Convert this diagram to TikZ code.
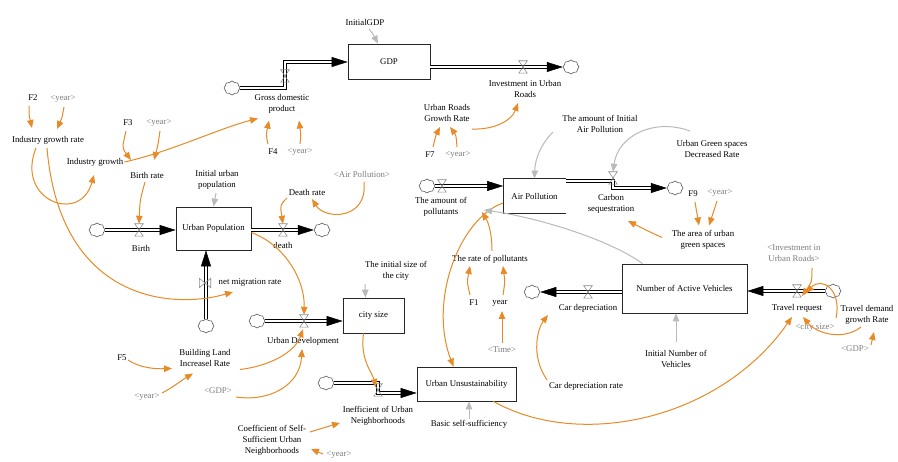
\documentclass[tikz,border=0pt]{standalone}
\usepackage{fontspec}
\setmainfont{Liberation Serif}
\usetikzlibrary{arrows.meta,shapes.symbols,calc}
\definecolor{inforange}{RGB}{232,138,38}
\definecolor{infogray}{RGB}{186,186,186}
\definecolor{shadowtext}{RGB}{125,125,125}

\tikzset{
  lbl/.style={font=\fontsize{8.8}{11}\selectfont, align=center, inner sep=1pt},
  glbl/.style={lbl, text=shadowtext},
  stock/.style={draw=black!85, line width=0.8pt, fill=white, inner sep=0pt,
    font=\fontsize{8.8}{11}\selectfont},
  inf/.style={draw=inforange, line width=1pt, -{Triangle[length=8pt,width=6.5pt]}},
  ginf/.style={draw=infogray, line width=1pt, -{Triangle[length=8pt,width=6.5pt]}},
  pipe/.style={draw=black, line width=1.1pt, double=white, double distance=1.4pt,
    shorten >=13pt},
  pipehead/.style={draw=white, line width=0.5pt,
    -{Triangle[length=16pt,width=10pt,color=black]}},
  cloudnode/.style={cloud, cloud puffs=8, cloud puff arc=120, aspect=1.1,
    draw=black!75, line width=0.5pt, fill=white, minimum width=16pt,
    minimum height=14pt, inner sep=0pt},
  valvebox/.style={minimum width=8pt, minimum height=12pt, inner sep=0pt},
  valveline/.style={draw=black!45, line width=0.6pt},
}

% a rate valve on a horizontal pipe (hourglass)
\newcommand\hvalve[3]{%
  \node[valvebox] (#1) at (#2,#3) {};
  \draw[valveline] (#1.north west) -- (#1.north east) -- (#1.south west)
    -- (#1.south east) -- cycle;}
% a rate valve on a vertical pipe (bow tie)
\newcommand\vvalve[3]{%
  \node[valvebox, minimum width=11pt, minimum height=9pt] (#1) at (#2,#3) {};
  \draw[valveline] (#1.north west) -- (#1.south west) -- (#1.north east)
    -- (#1.south east) -- cycle;}
% a material flow: double pipe with a solid head
\newcommand\flowpipe[1]{\draw[pipe] #1; \draw[pipehead] #1;}

\begin{document}
\begin{tikzpicture}[x=1pt, y=-1pt]
\useasboundingbox (0,0) rectangle (898,462);
\fill[white] (0,0) rectangle (898,462);

% ---------- stocks ----------
\node[stock, minimum width=82pt, minimum height=35pt] (gdp) at (389,61.5) {GDP};
\node[stock, minimum width=75pt, minimum height=43pt] (pop) at (213.5,228.5) {Urban Population};
\node[stock, minimum width=61pt, minimum height=35pt] (city) at (373.5,315.5) {city size};
\node[stock, draw=none, minimum width=62pt, minimum height=34pt] (air) at (534.5,196) {Air Pollution};
\draw[black!85, line width=0.8pt] (air.north east) -- (air.north west)
  -- (air.south west) -- (air.south east);
\node[stock, minimum width=99pt, minimum height=34pt] (unsus) at (466.5,384) {Urban Unsustainability};
\node[stock, minimum width=125pt, minimum height=49pt] (veh) at (684.5,288.5) {Number of Active Vehicles};

% ---------- clouds ----------
\node[cloudnode] (cG) at (232,88) {};
\node[cloudnode] (cI) at (571,67) {};
\node[cloudnode] (cB) at (97,230) {};
\node[cloudnode] (cD) at (322,230) {};
\node[cloudnode] (cM) at (206,326) {};
\node[cloudnode] (cU) at (257,321) {};
\node[cloudnode] (cN) at (326,383) {};
\node[cloudnode] (cP) at (427,186) {};
\node[cloudnode] (cC) at (675,188) {};
\node[cloudnode] (cV) at (532,292) {};
\node[cloudnode] (cT) at (833,291) {};

% ---------- labels ----------
\node[lbl] (initgdp) at (365,22) {InitialGDP};
\node[lbl] (gdpl) at (282,103.5) {Gross domestic\\product};
\node[lbl] (invl) at (525,89) {Investment in Urban\\Roads};
\node[lbl] (f2) at (33,98) {F2};
\node[glbl] (yr1) at (63,99) {<year>};
\node[lbl] (igr) at (48,140) {Industry growth rate};
\node[lbl] (ig) at (95,162) {Industry growth};
\node[lbl] (f3) at (128,123) {F3};
\node[glbl] (yr2) at (159,123) {<year>};
\node[lbl] (br) at (147,175) {Birth rate};
\node[lbl] (f4) at (273,152) {F4};
\node[glbl] (yr3) at (300,152) {<year>};
\node[lbl] (iup) at (217,180) {Initial urban\\population};
\node[lbl] (dr) at (307,192) {Death rate};
\node[glbl] (apg) at (362,174) {<Air Pollution>};
\node[lbl] (birthl) at (141,248) {Birth};
\node[lbl] (deathl) at (283,245) {death};
\node[lbl] (nmr) at (250,283) {net migration rate};
\node[lbl] (isc) at (396,271) {The initial size of\\the city};
\node[lbl] (udl) at (303,341) {Urban Development};
\node[lbl] (f5) at (122,358) {F5};
\node[lbl] (bl) at (205,357.5) {Building Land\\Increasel Rate};
\node[glbl] (yr4) at (147,397) {<year>};
\node[glbl] (gdpg) at (218,391) {<GDP>};
\node[lbl] (inefl) at (378,416) {Inefficient of Urban\\Neighborhoods};
\node[lbl] (coef) at (272,440) {Coefficient of Self-\\Sufficient Urban\\Neighborhoods};
\node[glbl] (yr5) at (339,455) {<year>};
\node[lbl] (bss) at (469,424) {Basic self-sufficiency};
\node[lbl] (urgr) at (447,113) {Urban Roads\\Growth Rate};
\node[lbl] (f7) at (430,155) {F7};
\node[glbl] (yr6) at (458,155) {<year>};
\node[lbl] (iap) at (600,123.5) {The amount of Initial\\Air Pollution};
\node[lbl] (ugs) at (712,149) {Urban Green spaces\\Decreased Rate};
\node[lbl] (f9) at (693,194) {F9};
\node[glbl] (yr7) at (720,193) {<year>};
\node[lbl] (aug) at (703,239.5) {The area of urban\\green spaces};
\node[lbl] (amtp) at (441,207) {The amount of\\pollutants};
\node[lbl] (carbl) at (611,204) {Carbon\\sequestration};
\node[lbl] (rop) at (490,259) {The rate of pollutants};
\node[lbl] (f1) at (474,303) {F1};
\node[lbl] (yearn) at (500,303) {year};
\node[glbl] (timeg) at (502,350) {<Time>};
\node[lbl] (cdl) at (588,308) {Car depreciation};
\node[lbl] (cdr) at (586,386) {Car depreciation rate};
\node[lbl] (ivn) at (676,358.5) {Initial Number of\\Vehicles};
\node[glbl] (iur) at (794,253) {<Investment in\\Urban Roads>};
\node[lbl] (trl) at (797,308) {Travel request};
\node[glbl] (csg) at (815,328) {<city size>};
\node[lbl] (tdg) at (867,315) {Travel demand\\growth Rate};
\node[glbl] (gdpg2) at (855,349) {<GDP>};

% ---------- flows ----------
\coordinate (g1) at (285,88);
\coordinate (g2) at (285,62);
\flowpipe{(cG) -- (g1) -- (g2) -- (gdp.west |- g2)}
\flowpipe{(gdp.east |- cI) -- (cI)}
\flowpipe{(cB) -- (pop.west |- cB)}
\flowpipe{(pop.east |- cD) -- (cD)}
\flowpipe{(cM) -- (cM |- pop.south)}
\flowpipe{(cU) -- (city.west |- cU)}
\coordinate (n1) at (378,383);
\coordinate (n2) at (378,393);
\flowpipe{(cN) -- (n1) -- (n2) -- (unsus.west |- n2)}
\flowpipe{(cP) -- (air.west |- cP)}
\coordinate (k1) at (613,181);
\coordinate (k2) at (613,188);
\flowpipe{(air.east |- k1) -- (k1) -- (k2) -- (cC)}
\flowpipe{(veh.west |- cV) -- (cV)}
\flowpipe{(cT) -- (veh.east |- cT)}

% ---------- valves ----------
\hvalve{vG}{285}{76}
\hvalve{vI}{523}{67}
\hvalve{vB}{139}{230}
\hvalve{vD}{283}{230}
\vvalve{vM}{205}{283}
\hvalve{vU}{304}{321}
\hvalve{vN}{378}{390}
\hvalve{vP}{442}{186}
\hvalve{vC}{613}{178}
\hvalve{vV}{588}{292}
\hvalve{vT}{797}{291}

% ---------- information links ----------
\draw[inf] ($(f2)+(-4,8)$) .. controls (29,115) .. ($(igr)+(-16,-12)$);
\draw[inf] ($(yr1)+(1,8)$) .. controls (62,118) .. ($(igr)+(9,-11)$);
\draw[inf] ($(igr)+(-12,8)$) .. controls (15,200) and (80,225) .. ($(ig)+(-1,13)$);
\draw[inf] ($(igr)+(-1,8)$) .. controls (60,300) and (170,310) .. ($(nmr)+(-17,9)$);
\draw[inf] (ig.east) .. controls (170,152) and (220,128) .. ($(gdpl)+(-24,15)$);
\draw[inf] ($(f3)+(-2,8)$) .. controls (122,148) .. ($(br)+(-16,-15)$);
\draw[inf] ($(yr2)+(1,8)$) .. controls (158,145) .. ($(br)+(7,-15)$);
\draw[inf] ($(f4)+(-5,-8)$) .. controls (266,135) .. ($(gdpl)+(-13,17)$);
\draw[inf] ($(yr3)+(0,-8)$) .. controls (301,135) .. ($(gdpl)+(17,17)$);
\draw[inf] ($(br)+(-2,7)$) .. controls (140,200) .. (vB.north);
\draw[inf] ($(dr)+(-20,6)$) .. controls (280,205) .. (vD.north);
\draw[inf] ($(apg)+(2,8)$) .. controls (368,220) and (325,220) .. ($(dr)+(5,7)$);
\draw[inf] ($(pop.east)+(0,4)$) .. controls (285,245) and (305,280) .. (vU.north);
\draw[ginf] ($(isc)+(-31,13)$) -- ($(city.north)+(-8,0)$);
\draw[inf] ($(f5)+(6,2)$) .. controls (140,368) and (155,369) .. ($(bl)+(-33,11)$);
\draw[inf] ($(yr4)+(15,-4)$) .. controls (172,388) and (182,380) .. ($(bl)+(-12,16)$);
\draw[inf] ($(bl)+(35,12)$) .. controls (270,366) and (295,352) .. ($(vU.south)+(-1,2)$);
\draw[inf] ($(gdpg)+(18,6)$) .. controls (270,402) and (300,385) .. ($(udl)+(-1,8)$);
\draw[inf] ($(city.south)+(-10,0)$) .. controls (360,360) and (372,372) .. ($(vN)+(-2,-3)$);
\draw[inf] ($(coef)+(38,-8)$) .. controls (322,428) .. ($(inefl)+(-38,7)$);
\draw[inf] ($(yr5)+(-16,-1)$) -- ($(coef)+(39,9)$);
\draw[ginf] (bss.north) -- (unsus.south -| bss);
\draw[ginf] ($(initgdp)+(4,7)$) .. controls (373,34) .. ($(gdp.north)+(-11,0)$);
\draw[ginf] ($(iup)+(-1,13)$) -- (pop.north);
\draw[inf] ($(urgr)+(25,16)$) .. controls (495,130) and (512,120) .. ($(invl)+(-7,14)$);
\draw[inf] ($(f7)+(3,-8)$) .. controls (436,135) .. ($(urgr)+(-7,14)$);
\draw[inf] ($(yr6)+(-1,-8)$) .. controls (456,135) .. ($(urgr)+(3,14)$);
\draw[ginf] ($(iap)+(-47,8.5)$) .. controls (540,145) and (535,160) .. (air.north);
\draw[ginf] ($(ugs)+(-22,-18)$) .. controls (655,118) and (618,135) .. (vC.north);
\draw[inf] ($(f9)+(2,8)$) -- ($(aug)+(-4,-14)$);
\draw[inf] ($(yr7)+(-3,8)$) -- ($(aug)+(6,-14)$);
\draw[inf] ($(aug)+(-41,-2)$) .. controls (650,232) .. ($(carbl)+(17,17)$);
\draw[inf] ($(air.west)+(0,7)$) .. controls (460,218) and (428,300) .. ($(unsus.north)+(-13,0)$);
\draw[inf] ($(rop)+(2,-8)$) .. controls (492,232) and (488,222) .. ($(amtp)+(41,5)$);
\draw[ginf] ($(veh.north)+(-42,0)$) .. controls (610,240) and (540,218) .. ($(amtp)+(43,3)$);
\draw[inf] ($(f1)+(-4,-8)$) .. controls (467,282) .. ($(rop)+(-20,7)$);
\draw[inf] ($(yearn)+(3,-8)$) .. controls (505,282) .. ($(rop)+(13,7)$);
\draw[inf] ($(timeg)+(0,-7)$) -- ($(yearn)+(2,8)$);
\draw[inf] ($(cdr)+(-39,-6)$) .. controls (530,355) and (538,328) .. ($(cdl)+(-40,7)$);
\draw[ginf] ($(ivn)+(0,-16)$) -- (veh.south -| ivn);
\draw[inf] ($(iur)+(18,15)$) .. controls (812,282) .. ($(vT)+(5,5)$);
\draw[inf] ($(csg)+(21,-10)$) .. controls (842,290) and (822,276) .. ($(vT)+(9,2)$);
\draw[inf] ($(tdg)+(-6,12)$) .. controls (845,340) and (818,335) .. ($(trl)+(6,9)$);
\draw[inf] ($(gdpg2)+(16,-4)$) -- ($(tdg)+(7,17)$);
\draw[inf] ($(unsus.south east)+(-23,0)$) .. controls (580,450) and (720,420) .. ($(trl)+(-5,9)$);
\end{tikzpicture}
\end{document}
